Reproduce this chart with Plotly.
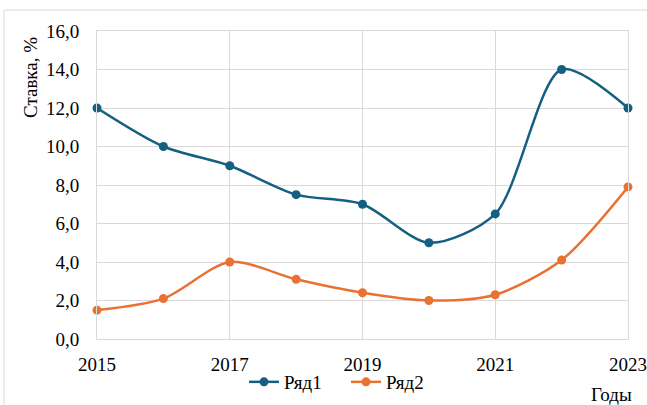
import plotly.graph_objects as go

years = [2015, 2016, 2017, 2018, 2019, 2020, 2021, 2022, 2023]
series1 = [12.0, 10.0, 9.0, 7.5, 7.0, 5.0, 6.5, 14.0, 12.0]
series2 = [1.5, 2.1, 4.0, 3.1, 2.4, 2.0, 2.3, 4.1, 7.9]
names = ["Ряд1", "Ряд2"]
colors = ["#156082", "#E97132"]
y_ticks = [0, 2, 4, 6, 8, 10, 12, 14, 16]
y_ticktext = ["0,0", "2,0", "4,0", "6,0", "8,0", "10,0", "12,0", "14,0", "16,0"]
x_ticks = [2015, 2017, 2019, 2021, 2023]

FONT = "Liberation Serif, Times New Roman, serif"
FS = 19

fig = go.Figure()
for vals, name, col in zip([series1, series2], names, colors):
    fig.add_trace(go.Scatter(
        x=years, y=vals, name=name, mode="lines+markers",
        line=dict(color=col, width=2.5, shape="spline", smoothing=0.8),
        marker=dict(color=col, size=9),
        cliponaxis=False,
    ))

W, H = 647, 405
L, R, T, B = 97, 19, 31, 66
pw, ph = W - L - R, H - T - B

fig.update_layout(
    width=W, height=H,
    margin=dict(l=L, r=R, t=T, b=B, autoexpand=False),
    paper_bgcolor="white", plot_bgcolor="white",
    font=dict(family=FONT, size=FS, color="#000000"),
    showlegend=True,
    legend=dict(orientation="h", x=(244 - L) / pw, xanchor="left",
                y=-(382 - (H - B)) / ph, yanchor="middle",
                font=dict(family=FONT, size=FS), itemwidth=30,
                entrywidth=57, tracegroupgap=0, bgcolor="rgba(0,0,0,0)"),
    xaxis=dict(range=[2015, 2023], tickvals=x_ticks, showgrid=True,
               gridcolor="#d9d9d9", gridwidth=1, showline=True, linecolor="#d9d9d9",
               linewidth=1, mirror=True, zeroline=False, ticks="", automargin=False,
               tickfont=dict(family=FONT, size=FS), ticklabelstandoff=8),
    yaxis=dict(range=[0, 16], tickvals=y_ticks, ticktext=y_ticktext, showgrid=True,
               gridcolor="#d9d9d9", gridwidth=1, showline=True, linecolor="#d9d9d9",
               linewidth=1, mirror=True, zeroline=False, ticks="", automargin=False,
               tickfont=dict(family=FONT, size=FS), ticklabelstandoff=13),
    shapes=[dict(type="rect", xref="paper", yref="paper",
                 x0=(4 - L) / pw, x1=(W + 10 - L) / pw,
                 y0=-(B + 10) / ph, y1=(H - B - 10) / ph,
                 line=dict(color="#d9d9d9", width=1), layer="below")],
    annotations=[
        dict(text="Ставка, %", xref="paper", yref="paper",
             x=(30 - L) / pw, y=(H - B - 78) / ph, textangle=-90,
             showarrow=False, xanchor="center", yanchor="middle",
             font=dict(family=FONT, size=FS)),
        dict(text="Годы", xref="paper", yref="paper",
             x=(611 - L) / pw, y=-(394 - (H - B)) / ph,
             showarrow=False, xanchor="center", yanchor="middle",
             font=dict(family=FONT, size=FS)),
    ],
)

fig.write_html("out.html", config={"displayModeBar": False},
               post_script="document.body.style.margin='0';document.body.style.overflow='hidden';")
